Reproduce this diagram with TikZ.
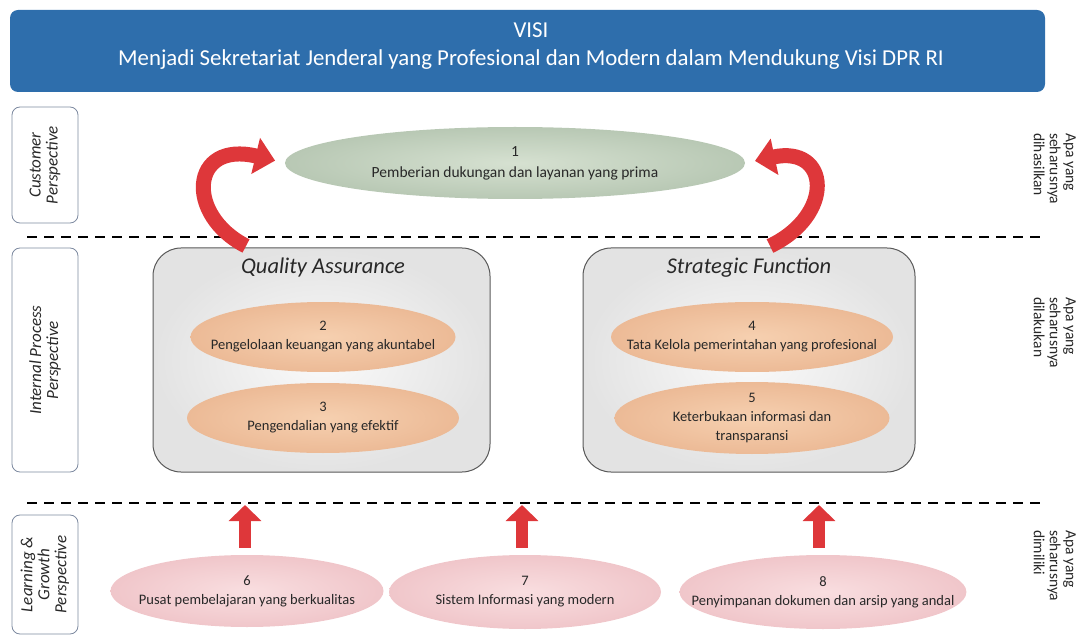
\documentclass[tikz,border=0pt]{standalone}
\usepackage{fontspec}
\setmainfont{Carlito}
\usetikzlibrary{shapes.geometric,arrows.meta}
\definecolor{visiblue}{RGB}{46,110,172}
\definecolor{arrowred}{RGB}{222,55,58}
\definecolor{boxgray}{RGB}{125,138,160}
\definecolor{textdark}{RGB}{40,40,40}

\begin{document}
\begin{tikzpicture}[x=1pt,y=-1pt,
		perspbox/.style={draw=boxgray, line width=0.8pt, rounded corners=8pt, rotate=90, minimum height=66pt, inner sep=0pt, align=center, text=textdark, font=\fontsize{17}{17}\selectfont\itshape},
		sidenote/.style={rotate=-90, anchor=north west, align=left, inner sep=0pt, text=textdark, font=\fontsize{15.5}{16}\selectfont},
		goal/.style={ellipse, align=center, inner xsep=-30pt, inner ysep=0pt, text=textdark, font=\fontsize{14.5}{19}\selectfont},
		goalgreen/.style={goal, inner color={rgb,255:red,214;green,225;blue,209}, outer color={rgb,255:red,184;green,200;blue,180}},
		goalpeach/.style={goal, inner color={rgb,255:red,246;green,208;blue,176}, outer color={rgb,255:red,236;green,186;blue,150}},
		goalpink/.style={goal, inner color={rgb,255:red,249;green,222;blue,224}, outer color={rgb,255:red,240;green,198;blue,202}},
		groupbox/.style={draw=black!65, line width=1pt, rounded corners=28pt, inner color=black!2, outer color=black!11, minimum height=224pt},
		grouptitle/.style={text=textdark, font=\fontsize{22.5}{26}\selectfont\itshape},
		dashline/.style={line width=2.5pt, dash pattern=on 10pt off 7pt},
		bentarrow/.style={draw=arrowred, line width=15pt, -{Triangle[length=20pt,width=36pt]}},
		uparrow/.style={draw=arrowred, line width=12pt, -{Triangle[length=16pt,width=32pt]}}]
	\useasboundingbox (0,0) rectangle (1082,636);

	\node[fill=visiblue, rounded corners=8pt, minimum width=1035pt, minimum height=82pt] (visi) at (527.5,51) {};
	\node[text=white, align=center, font=\fontsize{22.8}{28}\selectfont] (visitext) at (531,46) {VISI\\Menjadi Sekretariat Jenderal yang Profesional dan Modern dalam Mendukung Visi DPR RI};

	\node[perspbox, minimum width=116pt] (pcust) at (45,165) {Customer\\Perspective};
	\node[perspbox, minimum width=224pt] (pint) at (45,360) {Internal Process\\Perspective};
	\node[perspbox, minimum width=119pt] (plearn) at (45,574.5) {Learning \&\\Growth\\Perspective};

	\coordinate (dl1) at (27,237);
	\coordinate (dr1) at (1045,237);
	\coordinate (dl2) at (27,503);
	\coordinate (dr2) at (1045,503);
	\draw[dashline] (dl1) -- (dr1);
	\draw[dashline] (dl2) -- (dr2);

	\node[goalgreen, minimum width=460pt, minimum height=72pt, font=\fontsize{15.5}{21}\selectfont] (g1) at (515,163) {1\\Pemberian dukungan dan layanan yang prima};

	\node[groupbox, minimum width=337pt] (qa) at (321.5,360) {};
	\node[groupbox, minimum width=332pt] (sf) at (749,360) {};
	\node[grouptitle] (qatitle) at (323,268) {Quality Assurance};
	\node[grouptitle] (sftitle) at (749,268) {Strategic Function};

	\node[goalpeach, minimum width=265pt, minimum height=70pt] (g2) at (323,337) {2\\Pengelolaan keuangan yang akuntabel};
	\node[goalpeach, minimum width=272pt, minimum height=70pt] (g3) at (323,418) {3\\Pengendalian yang efektif};
	\node[goalpeach, minimum width=282pt, minimum height=70pt] (g4) at (752,337) {4\\Tata Kelola pemerintahan yang profesional};
	\node[goalpeach, minimum width=275pt, minimum height=72pt] (g5) at (752,418) {5\\Keterbukaan informasi dan\\transparansi};

	\node[goalpink, minimum width=273pt, minimum height=72pt] (g6) at (247,591) {6\\Pusat pembelajaran yang berkualitas};
	\node[goalpink, minimum width=272pt, minimum height=74pt] (g7) at (525,592) {7\\Sistem Informasi yang modern};
	\node[goalpink, minimum width=283pt, minimum height=74pt] (g8) at (823,592) {8\\Penyimpanan dokumen dan arsip yang andal};

	\coordinate (qaout) at (246,246);
	\coordinate (sfout) at (770,246);
	\draw[bentarrow, shorten >=10pt] (qaout) .. controls (185,215) and (190,140) .. (g1.west);
	\draw[bentarrow, shorten >=10pt] (sfout) .. controls (835,215) and (830,145) .. (g1.east);

	\coordinate (d6) at (245,505);
	\coordinate (d7) at (522,505);
	\coordinate (d8) at (819,505);
	\draw[uparrow, shorten <=7pt] (g6.north -| d6) -- (d6);
	\draw[uparrow, shorten <=7pt] (g7.north -| d7) -- (d7);
	\draw[uparrow, shorten <=7pt] (g8.north -| d8) -- (d8);

	\node[sidenote] (ncust) at (1076,133) {Apa yang\\seharusnya\\dihasilkan};
	\node[sidenote] (nint) at (1076,297) {Apa yang\\seharusnya\\dilakukan};
	\node[sidenote] (nlearn) at (1076,530) {Apa yang\\seharusnya\\dimiliki};
\end{tikzpicture}
\end{document}
